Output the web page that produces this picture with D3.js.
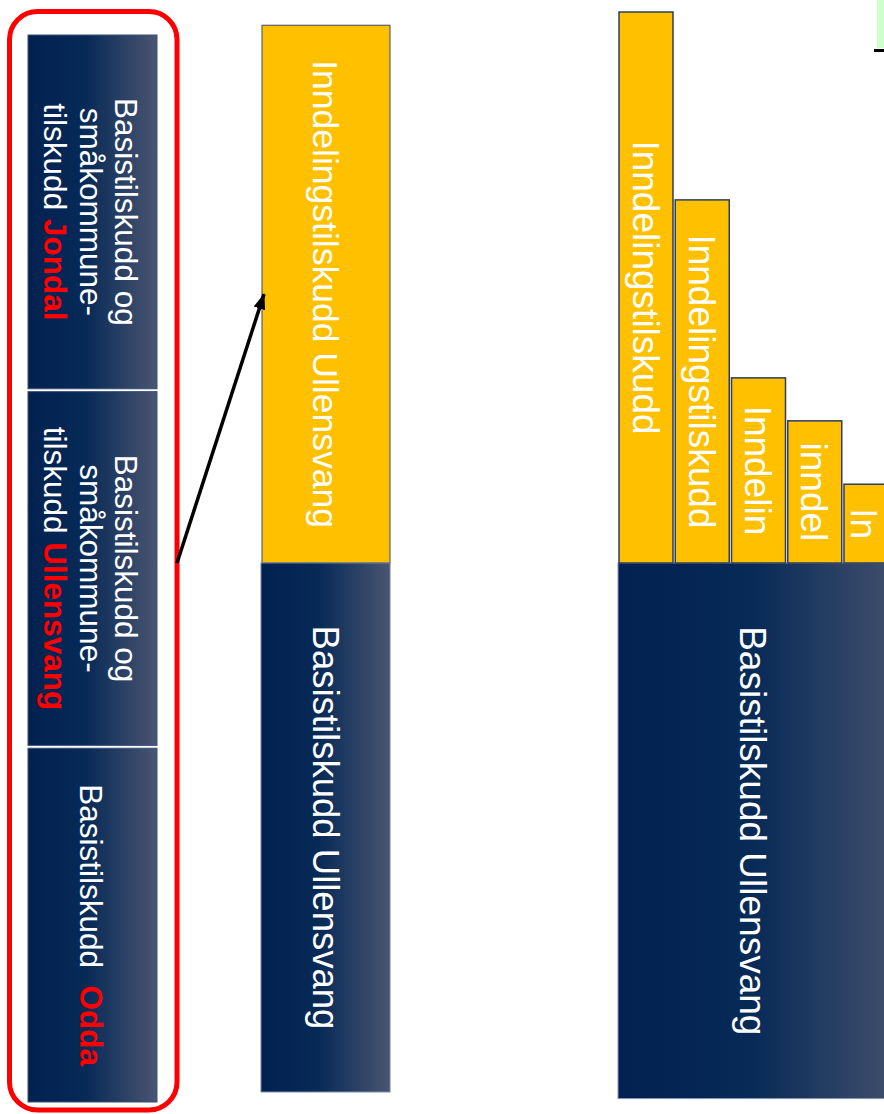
<!DOCTYPE html>
<html>
<head>
<meta charset="utf-8">
<script src="https://cdn.jsdelivr.net/npm/d3@7"></script>
<style>
  html, body { margin: 0; padding: 0; background: #ffffff; }
  svg { display: block; font-family: "Liberation Sans", Arial, sans-serif; }
</style>
</head>
<body>
<div id="chart"></div>
<script>
// levels in % of the tallest inndeling bar, 0 = top of basis block
const rightLevels = [100, 65.9, 33.6, 25.8, 14.3];
const rightLabels = ["Inndelingstilskudd", "Inndelingstilskudd", "Inndelin", "inndel", "In"];
const middleLevel = 97.6;
const middleLabel = "Inndelingstilskudd Ullensvang";
const basisLevels = [-96.0, -97.2]; // middle, right
const basisLabel = "Basistilskudd Ullensvang";

// the three boxes inside the red frame, one array of lines each
const boxLines = [
    [["Basistilskudd og"], ["småkommune-"], ["tilskudd ", "Jondal"]],
    [["Basistilskudd og"], ["småkommune-"], ["tilskudd ", "Ullensvang"]],
    [["Basistilskudd  ", "Odda"]]
];

const W = 884, H = 1114;

const svg = d3.select("#chart").append("svg")
    .attr("width", W)
    .attr("height", H);

const defs = svg.append("defs");
const grad = defs.append("linearGradient")
    .attr("id", "navy")
    .attr("x1", 0).attr("x2", 1).attr("y1", 0).attr("y2", 0);
grad.append("stop").attr("offset", "0%").attr("stop-color", "#022150");
grad.append("stop").attr("offset", "45%").attr("stop-color", "#072a57");
grad.append("stop").attr("offset", "100%").attr("stop-color", "#4a5571");

defs.append("marker")
    .attr("id", "head")
    .attr("markerUnits", "userSpaceOnUse")
    .attr("viewBox", "0 0 16 12")
    .attr("refX", 15).attr("refY", 6)
    .attr("markerWidth", 16).attr("markerHeight", 12)
    .attr("orient", "auto")
    .append("path")
    .attr("d", "M0,0 L16,6 L0,12 Z")
    .attr("fill", "#000");

// vertical value scale (shared by middle and right column)
const y = d3.scaleLinear().domain([0, 100]).range([563, 12]);

// top-right corner bits
svg.append("rect").attr("x", 877).attr("y", 0).attr("width", 10).attr("height", 48).attr("fill", "#ccffcc");
svg.append("rect").attr("x", 874).attr("y", 49).attr("width", 12).attr("height", 3).attr("fill", "#000");

// rotated text helper (reads top to bottom)
function vText(g, cx, cy, lines, size, dyEm) {
    const t = g.append("g")
        .attr("transform", `translate(${cx},${cy}) rotate(90)`)
        .append("text")
        .attr("text-anchor", "middle")
        .attr("font-size", size)
        .attr("fill", "#ffffff")
        .style("white-space", "pre");
    const n = lines.length;
    lines.forEach((parts, i) => {
        const line = t.append("tspan")
            .attr("x", 0)
            .attr("y", (i - (n - 1) / 2) * 35.5)
            .attr("dy", dyEm + "em");
        parts.forEach((p, j) => {
            const s = line.append("tspan").text(p);
            if (j === 1) s.attr("fill", "#ff0000").attr("font-weight", "bold");
        });
    });
}

// ---- left: three boxes in red frame
const boxX = 28, boxW = 129;
const yBox = d3.scaleBand().domain(d3.range(boxLines.length)).range([35, 1102]).paddingInner(0.008);

const boxes = svg.append("g");
boxes.selectAll("rect")
    .data(boxLines)
    .enter()
    .append("rect")
    .attr("x", boxX)
    .attr("y", (d, i) => yBox(i))
    .attr("width", boxW)
    .attr("height", yBox.bandwidth())
    .attr("fill", "url(#navy)")
    .attr("stroke", "#3b5078")
    .attr("stroke-width", 1);

boxLines.forEach((lines, i) => {
    vText(boxes, boxX + boxW / 2, yBox(i) + yBox.bandwidth() / 2, lines, 31.5, 0.4);
});

svg.append("rect")
    .attr("x", 9.5).attr("y", 11.5)
    .attr("width", 167.5).attr("height", 1098.5)
    .attr("rx", 28).attr("ry", 28)
    .attr("fill", "none")
    .attr("stroke", "#ff0000")
    .attr("stroke-width", 5);

// ---- middle column
const midX0 = 262, midX1 = 390;
const mid = svg.append("g");
mid.append("rect")
    .attr("x", midX0).attr("y", y(middleLevel))
    .attr("width", midX1 - midX0).attr("height", y(0) - y(middleLevel))
    .attr("fill", "#ffc000")
    .attr("stroke", "#3a4a66").attr("stroke-width", 1);
mid.append("rect")
    .attr("x", midX0 - 1).attr("y", y(0))
    .attr("width", midX1 - midX0 + 1).attr("height", y(basisLevels[0]) - y(0))
    .attr("fill", "url(#navy)")
    .attr("stroke", "#6f83a3").attr("stroke-width", 1);
vText(mid, (midX0 + midX1) / 2, (y(middleLevel) + y(0)) / 2, [[middleLabel]], 35.5, 0.36);
vText(mid, (midX0 + midX1) / 2, (y(0) + y(basisLevels[0])) / 2, [[basisLabel]], 36.5, 0.36);

// ---- right column
const rightX0 = 618;
const xr = d3.scaleBand().domain(d3.range(rightLevels.length)).range([619, 898]).paddingInner(0.04);
const right = svg.append("g");
right.append("rect")
    .attr("x", rightX0).attr("y", y(0))
    .attr("width", 300).attr("height", y(basisLevels[1]) - y(0))
    .attr("fill", "url(#navy)")
    .attr("stroke", "#8797b3").attr("stroke-width", 1);
vText(right, rightX0 + 266 / 2 + 2, (y(0) + y(basisLevels[1])) / 2, [[basisLabel]], 37, 0.36);

right.selectAll(".inn")
    .data(rightLevels)
    .enter()
    .append("rect")
    .attr("class", "inn")
    .attr("x", (d, i) => xr(i))
    .attr("y", d => y(d))
    .attr("width", xr.bandwidth())
    .attr("height", d => y(0) - y(d))
    .attr("fill", "#ffc000")
    .attr("stroke", "#2c3e5c")
    .attr("stroke-width", 1.5);

rightLevels.forEach((v, i) => {
    // centre the label in the visible part of the bar
    const x0 = xr(i), x1 = Math.min(xr(i) + xr.bandwidth(), W);
    vText(right, (x0 + x1) / 2, (y(v) + y(0)) / 2, [[rightLabels[i]]], 37, 0.36);
});

// ---- arrow from red frame to middle inndeling bar
svg.append("line")
    .attr("x1", 177).attr("y1", y(0))
    .attr("x2", midX0 + 2).attr("y2", y(middleLevel / 2))
    .attr("stroke", "#000")
    .attr("stroke-width", 3.5)
    .attr("marker-end", "url(#head)");
</script>
</body>
</html>
